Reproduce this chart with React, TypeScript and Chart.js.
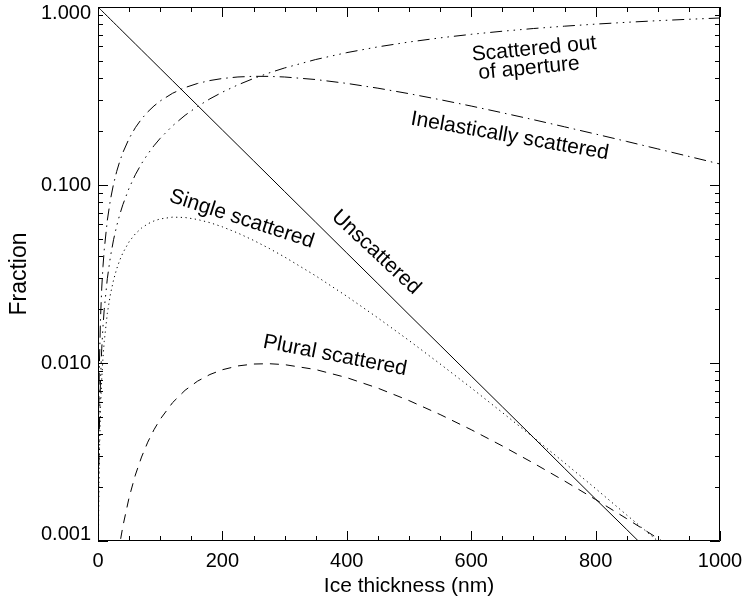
import React, { useEffect, useRef } from "react";
import { Chart, registerables } from "chart.js";

Chart.register(...registerables);

// Ice thickness (nm)
const thickness = [
  0.2, 0.5, 1, 2, 4, 6, 8, 10, 15, 20, 25, 30, 35, 40, 50, 60, 70, 80, 90, 100,
  120, 140, 160, 180, 200, 225, 250, 275, 300, 350, 400, 450, 500, 550, 600, 650,
  700, 750, 800, 850, 900, 950, 1000,
];

const unscattered = [
  0.9984, 0.996, 0.9921, 0.9842, 0.9687, 0.9534, 0.9383, 0.9235, 0.8875, 0.8529,
  0.8196, 0.7877, 0.757, 0.7274, 0.6718, 0.6204, 0.573, 0.5292, 0.4887, 0.4513,
  0.3849, 0.3283, 0.28, 0.2388, 0.2037, 0.167, 0.1369, 0.1122, 0.0919, 0.0618,
  0.0415, 0.0279, 0.0187, 0.01258, 0.00845, 0.00568, 0.00382, 0.00256, 0.00172,
  0.00116, 0.00078, 0.00052, 0.00035,
];

const scatteredOut = [
  0.0004, 0.001, 0.002, 0.004, 0.008, 0.012, 0.016, 0.02, 0.0298, 0.0396,
  0.0493, 0.0588, 0.0683, 0.0776, 0.0961, 0.1142, 0.1319, 0.1492, 0.1662, 0.1829,
  0.2153, 0.2464, 0.2762, 0.3049, 0.3324, 0.3653, 0.3965, 0.4262, 0.4545, 0.5069,
  0.5543, 0.5971, 0.6358, 0.6708, 0.7024, 0.731, 0.7569, 0.7802, 0.8013, 0.8204,
  0.8377, 0.8533, 0.8674,
];

const inelastic = [
  0.0009, 0.00225, 0.00449, 0.00894, 0.01772, 0.02636, 0.03485, 0.04319, 0.06342,
  0.08279, 0.1013, 0.119, 0.136, 0.1522, 0.1824, 0.2099, 0.2349, 0.2575, 0.278,
  0.2965, 0.3278, 0.3527, 0.3719, 0.3863, 0.3966, 0.4045, 0.4079, 0.4076, 0.4044,
  0.3913, 0.3722, 0.3499, 0.3259, 0.3016, 0.2777, 0.2546, 0.2328, 0.2123, 0.1933,
  0.1757, 0.1595, 0.1447, 0.1312,
];

const singleScattered = [
  0.000285, 0.000711, 0.00142, 0.00281, 0.00554, 0.00817, 0.01072, 0.01319,
  0.01902, 0.02437, 0.02927, 0.03376, 0.03785, 0.04157, 0.04799, 0.05318, 0.0573,
  0.06048, 0.06283, 0.06448, 0.06599, 0.06567, 0.064, 0.06142, 0.0582, 0.05367,
  0.04888, 0.04407, 0.0394, 0.03088, 0.02371, 0.01792, 0.01338, 0.00988, 0.00725,
  0.00527, 0.00382, 0.00275, 0.00197, 0.0014, 0.001, 0.00071, 0.0005,
];

const pluralScattered = [
  4.1e-8, 2.5e-7, 1.0e-6, 4.0e-6, 1.59e-5, 3.51e-5, 6.15e-5, 9.47e-5, 0.000205,
  0.000352, 0.000529, 0.000734, 0.000962, 0.001211, 0.001755, 0.002346, 0.002963,
  0.003591, 0.004218, 0.004833, 0.005994, 0.007027, 0.007906, 0.008619, 0.009166,
  0.009629, 0.009867, 0.00991, 0.009791, 0.009186, 0.008273, 0.007222, 0.006151,
  0.005135, 0.00422, 0.00342, 0.00274, 0.002174, 0.00171, 0.001335, 0.001035,
  0.000798, 0.000612,
];

const yTickValues = [0.001, 0.01, 0.1, 1];
const xTickStep = 200;
const xMinorStep = 50;

// Curve labels (text, data x, data y, rotation in degrees)
const curveLabels: { text: string; x: number; y: number; angle: number }[] = [
  { text: "Scattered out", x: 701, y: 0.58, angle: -5.5 },
  { text: "of aperture", x: 693, y: 0.452, angle: -5.5 },
  { text: "Inelastically scattered", x: 662, y: 0.188, angle: 10 },
  { text: "Single scattered", x: 231, y: 0.0644, angle: 18 },
  { text: "Unscattered", x: 447, y: 0.0419, angle: 43 },
  { text: "Plural scattered", x: 381, y: 0.011, angle: 11 },
];

const FONT = '"Liberation Sans", Arial, Helvetica, sans-serif';

const toPoints = (ys: number[]) => thickness.map((x, i) => ({ x, y: ys[i] }));

const frameTicksPlugin = {
  id: "frameTicks",
  afterDatasetsDraw(chart: any) {
    const { ctx, chartArea: a, scales } = chart;
    const xs = scales.x;
    const ys = scales.y;
    ctx.save();
    ctx.strokeStyle = "#000";
    ctx.lineWidth = 1;
    ctx.beginPath();
    ctx.rect(a.left + 0.5, a.top + 0.5, a.right - a.left - 1, a.bottom - a.top - 1);
    ctx.stroke();
    ctx.beginPath();
    for (let v = 0; v <= 1000; v += xMinorStep) {
      const px = Math.round(xs.getPixelForValue(v)) + 0.5;
      const len = v % xTickStep === 0 ? 10 : 5;
      ctx.moveTo(px, a.bottom);
      ctx.lineTo(px, a.bottom - len);
      ctx.moveTo(px, a.top);
      ctx.lineTo(px, a.top + len);
    }
    const yvals: { v: number; major: boolean }[] = [];
    for (let d = -3; d <= -1; d++) {
      for (let k = 1; k <= 9; k++) yvals.push({ v: k * Math.pow(10, d), major: k === 1 });
    }
    yvals.push({ v: 1, major: true });
    for (const t of yvals) {
      const py = Math.round(ys.getPixelForValue(t.v)) + 0.5;
      const len = t.major ? 10 : 5;
      ctx.moveTo(a.left, py);
      ctx.lineTo(a.left + len, py);
      ctx.moveTo(a.right, py);
      ctx.lineTo(a.right - len, py);
    }
    ctx.stroke();
    ctx.restore();
  },
  afterDraw(chart: any) {
    const { ctx, scales } = chart;
    ctx.save();
    ctx.fillStyle = "#000";
    ctx.font = `21px ${FONT}`;
    ctx.textAlign = "center";
    ctx.textBaseline = "middle";
    for (const l of curveLabels) {
      const px = scales.x.getPixelForValue(l.x);
      const py = scales.y.getPixelForValue(l.y);
      ctx.save();
      ctx.translate(px, py);
      ctx.rotate((l.angle * Math.PI) / 180);
      ctx.fillText(l.text, 0, 0);
      ctx.restore();
    }
    ctx.restore();
  },
};

const yMin = yTickValues[0];
const yMax = yTickValues[yTickValues.length - 1];

export default function App() {
  const ref = useRef<HTMLCanvasElement>(null);
  useEffect(() => {
    if (!ref.current) return;
    const line = (label: string, ys: number[], dash: number[]) => ({
      label,
      data: toPoints(ys),
      borderColor: "#000",
      borderWidth: 1,
      borderDash: dash,
      pointRadius: 0,
      tension: 0,
      fill: false,
    });
    const chart = new Chart(ref.current, {
      type: "line",
      data: {
        datasets: [
          line("Unscattered", unscattered, []),
          line("Scattered out of aperture", scatteredOut, [12, 5, 1.5, 5, 1.5, 5, 1.5, 5]),
          line("Inelastically scattered", inelastic, [12, 5, 1.5, 5]),
          line("Single scattered", singleScattered, [1.2, 3.5]),
          line("Plural scattered", pluralScattered, [9, 7]),
        ],
      },
      options: {
        animation: false,
        responsive: false,
        devicePixelRatio: 1,
        layout: { padding: { left: 0, right: 26, top: 7, bottom: 0 } },
        plugins: {
          legend: { display: false },
          tooltip: { enabled: false },
        },
        scales: {
          x: {
            type: "linear",
            min: 0,
            max: 1000,
            grid: { display: false, drawTicks: false },
            border: { display: false },
            ticks: {
              stepSize: xTickStep,
              autoSkip: false,
              maxRotation: 0,
              color: "#000",
              padding: 8,
              font: { family: FONT, size: 20 },
              callback: (v: any) => String(v),
            },
            title: {
              display: true,
              text: "Ice thickness (nm)",
              color: "#000",
              font: { family: FONT, size: 21 },
              padding: { top: 3, bottom: 0 },
            },
            afterFit: (s: any) => {
              s.height = 58;
              s.paddingLeft = 0;
              s.paddingRight = 0;
            },
          },
          y: {
            type: "logarithmic",
            min: yMin,
            max: yMax,
            grid: { display: false, drawTicks: false },
            border: { display: false },
            afterBuildTicks: (s: any) => {
              s.ticks = yTickValues.map((value) => ({ value }));
            },
            ticks: {
              autoSkip: false,
              color: "#000",
              padding: 7,
              font: (c: any) => {
                const v = c.tick ? c.tick.value : 0;
                const edge = v === yMin || v === yMax;
                return { family: FONT, size: 20, lineHeight: edge ? 0.62 : 1.2 };
              },
              // the end labels sit slightly inside the frame, as in the original
              callback: (v: any) => {
                const s = Number(v).toFixed(3);
                if (v === yMax) return ["", s];
                if (v === yMin) return [s, ""];
                return s;
              },
            },
            title: {
              display: true,
              text: "Fraction",
              color: "#000",
              font: { family: FONT, size: 23 },
              padding: { top: 6, bottom: 0 },
            },
            afterFit: (s: any) => {
              s.width = 98;
              s.paddingTop = 0;
              s.paddingBottom = 0;
            },
          },
        },
      },
      plugins: [frameTicksPlugin],
    } as any);
    return () => chart.destroy();
  }, []);
  return (
    <div
      style={{
        position: "fixed",
        left: 0,
        top: 0,
        width: 746,
        height: 599,
        background: "#fff",
      }}
    >
      <canvas ref={ref} width={746} height={599} style={{ display: "block" }} />
    </div>
  );
}
